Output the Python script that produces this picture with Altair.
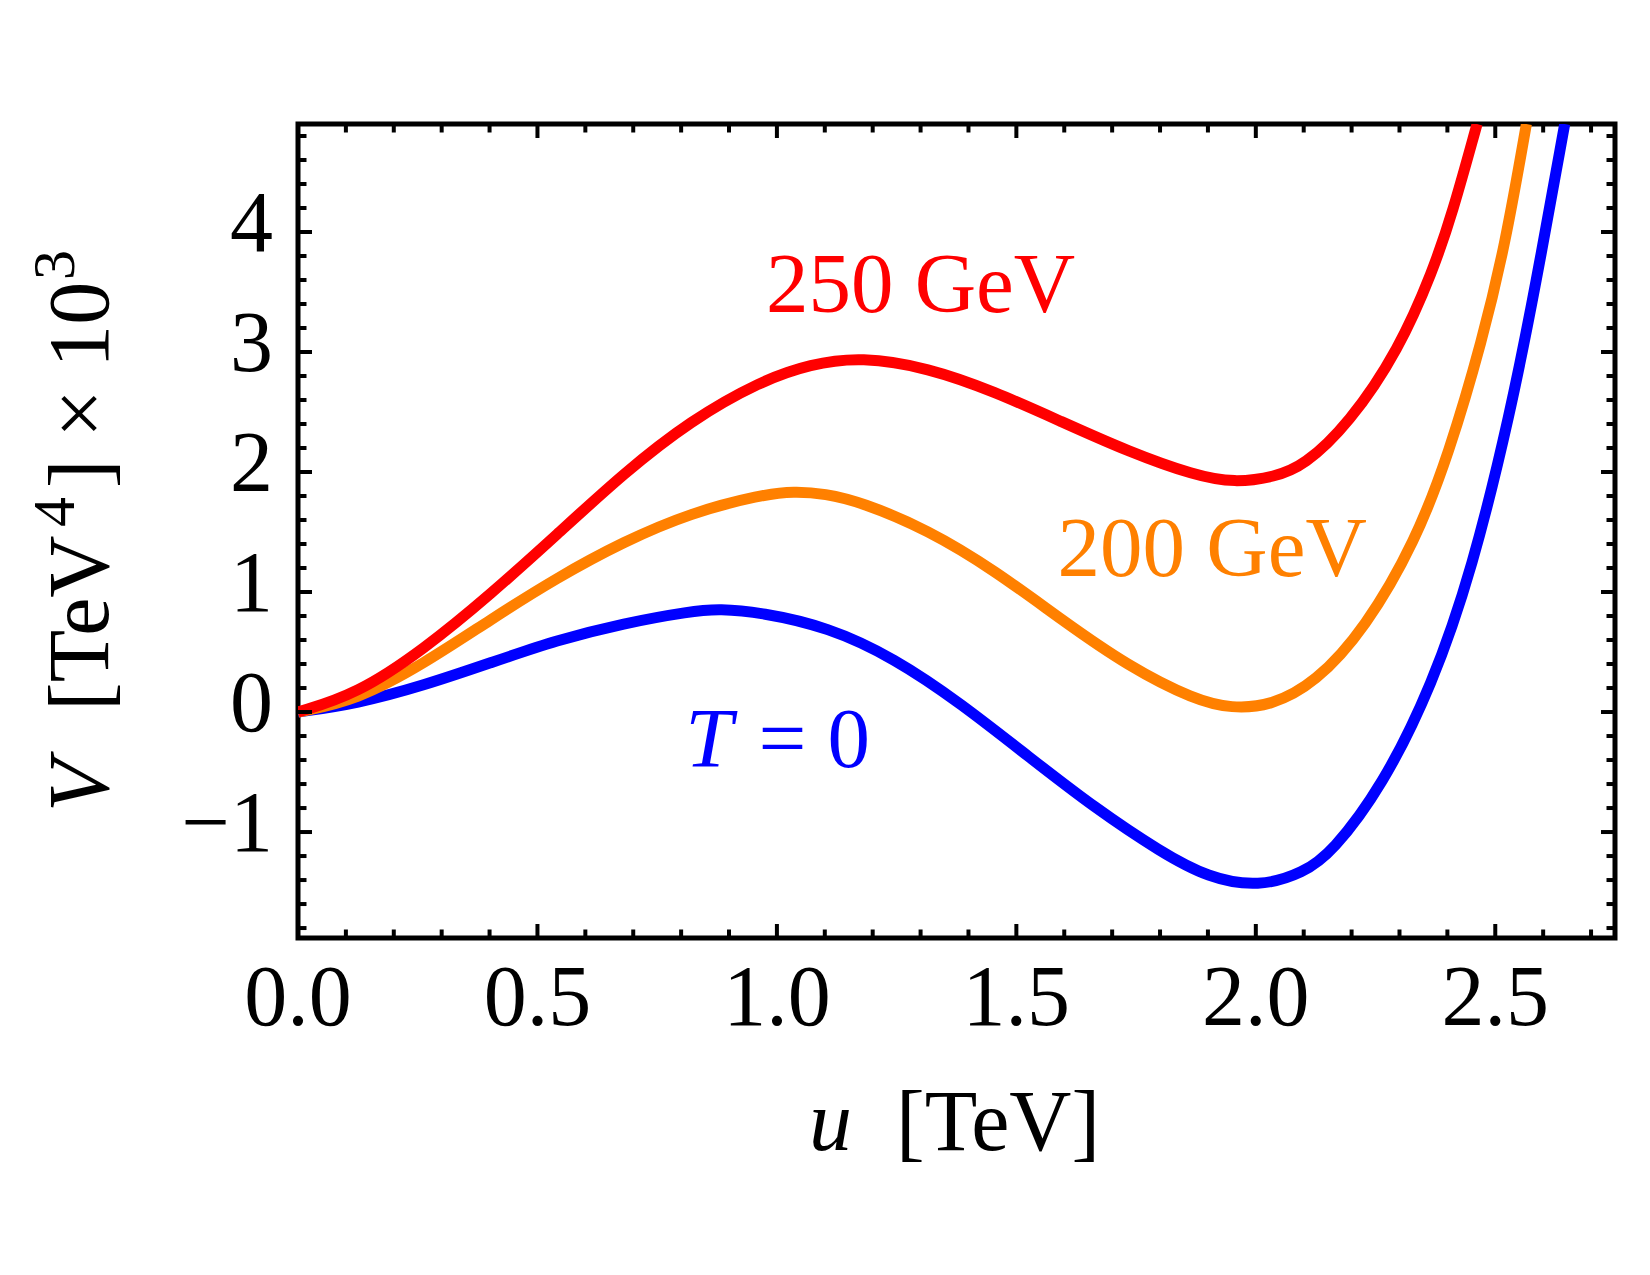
import altair as alt
import pandas as pd

# ---- data ----
blue_u = [0.0, 0.123, 0.262, 0.402, 0.541, 0.68, 0.82, 0.88, 0.967, 1.106, 1.245, 1.385,
          1.525, 1.664, 1.803, 1.90, 2.006, 2.10, 2.159, 2.264, 2.368, 2.452, 2.532, 2.584, 2.645]
blue_v = [0.0, 0.07, 0.22, 0.41, 0.60, 0.74, 0.84, 0.86, 0.83, 0.71, 0.45, 0.07,
          -0.37, -0.80, -1.17, -1.38, -1.46, -1.34, -1.17, -0.62, 0.22, 1.19, 2.50, 3.55, 4.90]

orange_u = [0.0, 0.123, 0.262, 0.402, 0.541, 0.68, 0.82, 0.967, 1.036, 1.10, 1.176, 1.315,
            1.455, 1.594, 1.734, 1.873, 1.95, 2.03, 2.124, 2.229, 2.333, 2.403, 2.473, 2.521,
            2.565]
orange_v = [0.0, 0.10, 0.40, 0.77, 1.12, 1.42, 1.66, 1.81, 1.84, 1.82, 1.75, 1.52,
            1.18, 0.77, 0.38, 0.10, 0.03, 0.05, 0.24, 0.70, 1.42, 2.15, 3.10, 3.90, 4.90]

red_u = [0.0, 0.123, 0.262, 0.402, 0.541, 0.68, 0.82, 0.967, 1.07, 1.176, 1.315, 1.455,
         1.594, 1.734, 1.873, 1.956, 2.04, 2.10, 2.194, 2.299, 2.37, 2.41, 2.462]
red_v = [0.0, 0.15, 0.52, 0.98, 1.48, 1.99, 2.43, 2.76, 2.90, 2.96, 2.87, 2.67,
         2.42, 2.17, 1.97, 1.91, 1.96, 2.05, 2.40, 3.02, 3.68, 4.15, 4.90]

series = [("T = 0", blue_u, blue_v, "#0000FF"),
          ("200 GeV", orange_u, orange_v, "#FF8000"),
          ("250 GeV", red_u, red_v, "#FF0000")]

x_major = [0.0, 0.5, 1.0, 1.5, 2.0, 2.5]
x_major_labels = ["0.0", "0.5", "1.0", "1.5", "2.0", "2.5"]
x_minor = [0.1, 0.2, 0.3, 0.4, 0.6, 0.7, 0.8, 0.9, 1.1, 1.2, 1.3, 1.4, 1.6, 1.7, 1.8, 1.9,
           2.1, 2.2, 2.3, 2.4, 2.6, 2.7]
y_major = [-1, 0, 1, 2, 3, 4]
y_major_labels = ["\u22121", "0", "1", "2", "3", "4"]
y_minor = [-1.8, -1.6, -1.4, -1.2, -0.8, -0.6, -0.4, -0.2, 0.2, 0.4, 0.6, 0.8,
           1.2, 1.4, 1.6, 1.8, 2.2, 2.4, 2.6, 2.8, 3.2, 3.4, 3.6, 3.8, 4.2, 4.4, 4.6, 4.8]

ann_text = ["250 GeV", "200 GeV", "= 0"]
ann_u = [1.30, 1.909, 1.078]
ann_v = [3.33, 1.133, -0.46]
ann_color = ["#FF0000", "#FF8000", "#0000FF"]

# ---- layout ----
W, H = 1317, 814
FONT = "Liberation Serif"
xs = alt.Scale(domain=[0, 2.75], nice=False, zero=False)
ys = alt.Scale(domain=[-1.883, 4.9], nice=False, zero=False)

def X(f):
    return alt.X(f, scale=xs, axis=None)

def Y(f):
    return alt.Y(f, scale=ys, axis=None)

layers = []
for name, us, vs, col in series:
    df = pd.DataFrame({"u": us, "V": vs})
    layers.append(alt.Chart(df).mark_line(clip=True, strokeWidth=11, interpolate="basis",
                                          color=col).encode(x=X("u:Q"), y=Y("V:Q")))

MAJ, MIN = 14, 8.5
TW = 4
def xticks(vals, length, top):
    df = pd.DataFrame({"t": vals})
    if top:
        yy, yy2 = alt.value(0), alt.value(length)
    else:
        yy, yy2 = alt.value(H), alt.value(H - length)
    return alt.Chart(df).mark_rule(color="black", strokeWidth=TW).encode(
        x=X("t:Q"), y=yy, y2=yy2)

def yticks(vals, length, right):
    df = pd.DataFrame({"t": vals})
    if right:
        xx, xx2 = alt.value(W), alt.value(W - length)
    else:
        xx, xx2 = alt.value(0), alt.value(length)
    return alt.Chart(df).mark_rule(color="black", strokeWidth=TW).encode(
        y=Y("t:Q"), x=xx, x2=xx2)

for top in (False, True):
    layers.append(xticks(x_major, MAJ, top))
    layers.append(xticks(x_minor, MIN, top))
for right in (False, True):
    layers.append(yticks(y_major, MAJ, right))
    layers.append(yticks(y_minor, MIN, right))

# tick labels
xl = pd.DataFrame({"t": x_major, "s": x_major_labels})
layers.append(alt.Chart(xl).mark_text(font=FONT, fontSize=86, align="center",
                                      baseline="alphabetic", color="black").encode(
    x=X("t:Q"), y=alt.value(H + 87), text="s:N"))
yl = pd.DataFrame({"t": y_major, "s": y_major_labels})
layers.append(alt.Chart(yl).mark_text(font=FONT, fontSize=86, align="right",
                                      baseline="alphabetic", dy=19, color="black").encode(
    y=Y("t:Q"), x=alt.value(-25), text="s:N"))

# in-plot labels
ann = pd.DataFrame({"label": ann_text, "u": ann_u, "V": ann_v, "color": ann_color})
layers.append(alt.Chart(ann).mark_text(font=FONT, fontSize=85, align="center",
                                       baseline="alphabetic").encode(
    x=X("u:Q"), y=Y("V:Q"), text="label:N", color=alt.Color("color:N", scale=None)))

tlab = pd.DataFrame({"label": ["T"], "u": [0.858], "V": [-0.46]})
layers.append(alt.Chart(tlab).mark_text(font=FONT, fontSize=85, fontStyle="italic",
                                        align="center", baseline="alphabetic",
                                        color="#0000FF").encode(
    x=X("u:Q"), y=Y("V:Q"), text="label:N"))

# axis titles
def title_text(txt, x, y, italic=False, angle=0, size=86):
    kw = dict(font=FONT, fontSize=size, align="left", baseline="alphabetic", color="black")
    if italic:
        kw["fontStyle"] = "italic"
    if angle:
        kw["angle"] = angle
    return alt.Chart(pd.DataFrame({"s": [txt]})).mark_text(**kw).encode(
        text="s:N", x=alt.value(x), y=alt.value(y))

layers.append(title_text("u", 511, 1026, italic=True))
layers.append(title_text("[TeV]", 598, 1026))
layers.append(title_text("V", -190, 688, italic=True, angle=270))
layers.append(title_text("[TeV", -190, 587, angle=270))
layers.append(title_text("4", -224, 403, angle=270, size=60))
layers.append(title_text("] \u00d7 10", -190, 364, angle=270))
layers.append(title_text("3", -224, 156, angle=270, size=60))

chart = alt.layer(*layers).properties(
    width=W, height=H,
    padding={"left": 298, "top": 124, "right": 35, "bottom": 337},
    autosize=alt.AutoSizeParams(type="none"),
    background="white",
).configure_view(stroke="black", strokeWidth=5)

chart.save("out.html", embed_options={"renderer": "svg", "actions": False})
